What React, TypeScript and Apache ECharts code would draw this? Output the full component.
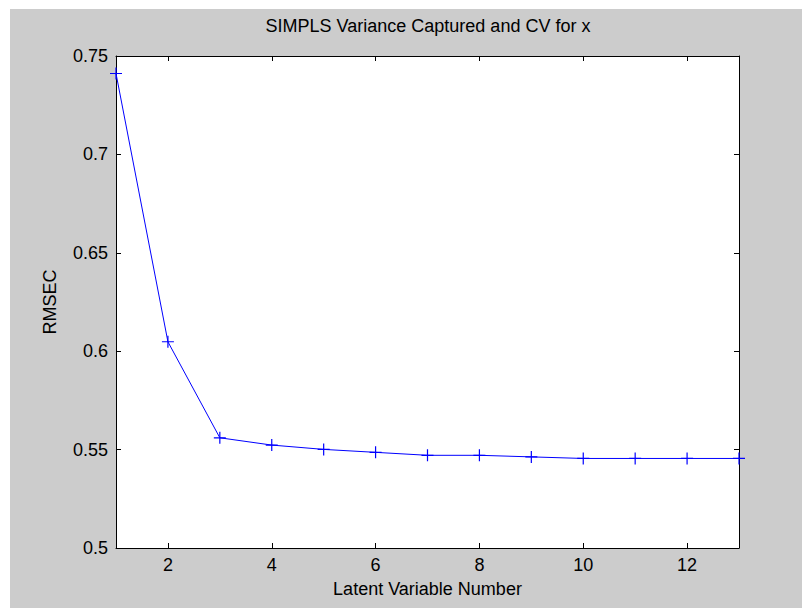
import React, { useEffect, useRef } from "react";
import * as echarts from "echarts";

const latentVariables = [1, 2, 3, 4, 5, 6, 7, 8, 9, 10, 11, 12, 13];
const rmsec = [0.7411, 0.6048, 0.556, 0.5523, 0.5501, 0.5486, 0.5471, 0.5471, 0.5463, 0.5455, 0.5455, 0.5455, 0.5455];
const xTickValues = [2, 4, 6, 8, 10, 12];
const chartTitle = "SIMPLS Variance Captured and CV for x";
const xName = "Latent Variable Number";
const yName = "RMSEC";

const FONT = "'Liberation Sans', Arial, Helvetica, sans-serif";
const PLUS = "path://M0,5.4H12V6.6H0Z M5.4,0H6.6V12H5.4Z";

export default function App() {
  const ref = useRef<HTMLDivElement>(null);
  useEffect(() => {
    if (!ref.current) return;
    const chart = echarts.init(ref.current, null, { renderer: "svg" });
    const tickCommon = { show: true, inside: true, length: 5, lineStyle: { color: "#000", width: 1 } };
    const lineCommon = { show: true, onZero: false, lineStyle: { color: "#000", width: 1 } };
    const labelStyle = { fontSize: 18, color: "#000", fontFamily: FONT };
    chart.setOption({
      animation: false,
      backgroundColor: "transparent",
      textStyle: { fontFamily: FONT },
      graphic: [
        {
          type: "text",
          x: 418,
          y: 17,
          style: {
            text: chartTitle,
            fontSize: 18,
            fontFamily: FONT,
            fill: "#000",
            align: "center",
            verticalAlign: "middle",
          },
        },
      ],
      grid: {
        left: 106,
        top: 47,
        right: 63,
        bottom: 60,
        show: true,
        backgroundColor: "#ffffff",
        borderWidth: 0,
      },
      xAxis: [
        {
          type: "value",
          position: "bottom",
          min: 1,
          max: 13,
          axisLine: lineCommon,
          axisTick: { ...tickCommon, customValues: xTickValues },
          axisLabel: { ...labelStyle, margin: 8, customValues: xTickValues },
          splitLine: { show: false },
          name: xName,
          nameLocation: "middle",
          nameGap: 32,
          nameTextStyle: labelStyle,
        },
        {
          type: "value",
          position: "top",
          min: 1,
          max: 13,
          axisLine: lineCommon,
          axisTick: { ...tickCommon, customValues: xTickValues },
          axisLabel: { show: false, customValues: xTickValues },
          splitLine: { show: false },
        },
      ],
      yAxis: [
        {
          type: "value",
          position: "left",
          min: 0.5,
          max: 0.75,
          interval: 0.05,
          axisLine: lineCommon,
          axisTick: tickCommon,
          axisLabel: { ...labelStyle, margin: 8 },
          splitLine: { show: false },
          name: yName,
          nameLocation: "middle",
          nameGap: 57,
          nameTextStyle: labelStyle,
        },
        {
          type: "value",
          position: "right",
          min: 0.5,
          max: 0.75,
          interval: 0.05,
          axisLine: lineCommon,
          axisTick: tickCommon,
          axisLabel: { show: false },
          splitLine: { show: false },
        },
      ],
      series: [
        {
          type: "line",
          xAxisIndex: 0,
          yAxisIndex: 0,
          data: latentVariables.map((x, i) => [x, rmsec[i]]),
          symbol: PLUS,
          symbolSize: 12,
          showAllSymbol: true,
          clip: false,
          itemStyle: { color: "#0000ff" },
          lineStyle: { color: "#0000ff", width: 1 },
        },
      ],
    });
    return () => chart.dispose();
  }, []);
  return (
    <div style={{ position: "absolute", left: 0, top: 0, width: 802, height: 608, background: "#ffffff" }}>
      <div style={{ position: "absolute", left: 10, top: 9, width: 792, height: 599, background: "#cccccc" }}>
        <div ref={ref} style={{ width: 792, height: 599 }} />
      </div>
    </div>
  );
}
